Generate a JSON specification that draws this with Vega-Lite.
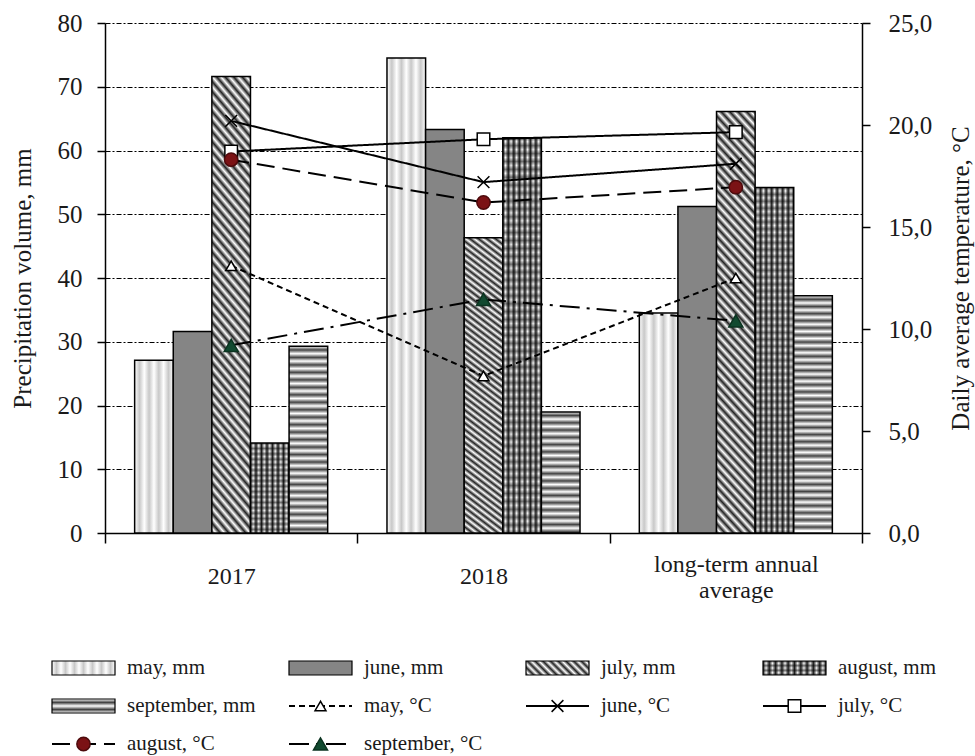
{
  "$schema": "https://vega.github.io/schema/vega-lite/v6.json",
  "width": 757,
  "height": 510,
  "autosize": {"type": "none"},
  "padding": {"left": 105, "top": 23, "right": 113, "bottom": 223},
  "background": "#ffffff",
  "config": {
    "view": {"stroke": null},
    "font": "Liberation Serif",
    "axis": {
      "labelFont": "Liberation Serif",
      "titleFont": "Liberation Serif",
      "labelColor": "#1a1a1a",
      "titleColor": "#1a1a1a",
      "titleFontWeight": "normal",
      "domainColor": "#000",
      "tickColor": "#000"
    }
  },
  "datasets": {
    "bars": [
      {"year": "2017", "month": "may", "mm": 27.1},
      {"year": "2017", "month": "june", "mm": 31.6},
      {"year": "2017", "month": "july", "mm": 71.6},
      {"year": "2017", "month": "august", "mm": 14.1},
      {"year": "2017", "month": "september", "mm": 29.3},
      {"year": "2018", "month": "may", "mm": 74.5},
      {"year": "2018", "month": "june", "mm": 63.3},
      {"year": "2018", "month": "july", "mm": 46.3},
      {"year": "2018", "month": "august", "mm": 62.0},
      {"year": "2018", "month": "september", "mm": 19.0},
      {"year": "long-term annual average", "month": "may", "mm": 34.5},
      {"year": "long-term annual average", "month": "june", "mm": 51.2},
      {"year": "long-term annual average", "month": "july", "mm": 66.1},
      {"year": "long-term annual average", "month": "august", "mm": 54.2},
      {"year": "long-term annual average", "month": "september", "mm": 37.2}
    ],
    "temps": [
      {"year": "2017", "series": "may", "t": 13.1},
      {"year": "2018", "series": "may", "t": 7.7},
      {"year": "long-term annual average", "series": "may", "t": 12.5},
      {"year": "2017", "series": "june", "t": 20.2},
      {"year": "2018", "series": "june", "t": 17.2},
      {"year": "long-term annual average", "series": "june", "t": 18.1},
      {"year": "2017", "series": "july", "t": 18.7},
      {"year": "2018", "series": "july", "t": 19.3},
      {"year": "long-term annual average", "series": "july", "t": 19.65},
      {"year": "2017", "series": "august", "t": 18.3},
      {"year": "2018", "series": "august", "t": 16.2},
      {"year": "long-term annual average", "series": "august", "t": 16.95},
      {"year": "2017", "series": "september", "t": 9.2},
      {"year": "2018", "series": "september", "t": 11.45},
      {"year": "long-term annual average", "series": "september", "t": 10.4}
    ],
    "legend": [
      {"series": "may", "label": "may, mm", "kind": "bar", "col": 0, "row": 0},
      {"series": "june", "label": "june, mm", "kind": "bar", "col": 1, "row": 0},
      {"series": "july", "label": "july, mm", "kind": "bar", "col": 2, "row": 0},
      {"series": "august", "label": "august, mm", "kind": "bar", "col": 3, "row": 0},
      {"series": "september", "label": "september, mm", "kind": "bar", "col": 0, "row": 1},
      {"series": "may", "label": "may, °C", "kind": "line", "col": 1, "row": 1},
      {"series": "june", "label": "june, °C", "kind": "line", "col": 2, "row": 1},
      {"series": "july", "label": "july, °C", "kind": "line", "col": 3, "row": 1},
      {"series": "august", "label": "august, °C", "kind": "line", "col": 0, "row": 2},
      {"series": "september", "label": "september, °C", "kind": "line", "col": 1, "row": 2}
    ]
  },
  "layer": [
    {
      "layer": [
        {
          "data": {"name": "bars"},
          "layer": [
            {
              "mark": {"type": "bar", "stroke": "#000", "strokeWidth": 1.5},
              "encoding": {
                "x": {
                  "field": "year", "type": "nominal", "title": null,
                  "scale": {"domain": ["2017", "2018", "long-term annual average"], "paddingInner": 0, "paddingOuter": 0},
                  "axis": {
                    "labelAngle": 0, "labelFontSize": 24, "labelBaseline": "middle",
                    "labelPadding": {"condition": {"test": "datum.value === 'long-term annual average'", "value": 21}, "value": 33},
                    "labelLineHeight": 26, "labelLimit": 0,
                    "labelExpr": "datum.label == 'long-term annual average' ? ['long-term annual', 'average'] : datum.label",
                    "tickBand": "extent", "tickSize": 10, "tickWidth": 1.5, "domainWidth": 1.5
                  }
                },
                "xOffset": {
                  "field": "month", "type": "nominal",
                  "scale": {"domain": ["may", "june", "july", "august", "september"], "paddingInner": 0, "paddingOuter": 0.768}
                },
                "y": {
                  "field": "mm", "type": "quantitative", "title": "Precipitation volume, mm",
                  "scale": {"domain": [0, 80], "nice": false},
                  "axis": {
                    "values": [0, 10, 20, 30, 40, 50, 60, 70, 80],
                    "grid": true, "gridColor": "#000", "gridDash": [5, 2, 2, 2], "gridWidth": 1,
                    "tickSize": 8, "tickWidth": 1.5, "domainWidth": 1.5,
                    "labelFontSize": 25, "labelPadding": 15, "titleFontSize": 25, "titlePadding": 22
                  }
                },
                "fill": {
                  "condition": [
                    {"test": "datum.month === 'may'", "value": {"gradient": "linear", "x1": 0, "y1": 0, "x2": 1, "y2": 0, "stops": [
                      {"offset": 0, "color": "#fff"}, {"offset": 0.125, "color": "#c8c8c8"}, {"offset": 0.25, "color": "#fff"}, {"offset": 0.375, "color": "#c8c8c8"},
                      {"offset": 0.5, "color": "#fff"}, {"offset": 0.625, "color": "#c8c8c8"}, {"offset": 0.75, "color": "#fff"}, {"offset": 0.875, "color": "#c8c8c8"},
                      {"offset": 1, "color": "#fff"}]}},
                    {"test": "datum.month === 'july'", "value": {"gradient": "linear", "x1": 0, "y1": 1, "x2": 0.109, "y2": -0.089, "stops": [
                      {"offset":0,"color":"#222"},{"offset":0.01,"color":"#fff"},{"offset":0.02,"color":"#222"},{"offset":0.03,"color":"#fff"},{"offset":0.04,"color":"#222"},{"offset":0.05,"color":"#fff"},{"offset":0.06,"color":"#222"},{"offset":0.07,"color":"#fff"},{"offset":0.08,"color":"#222"},{"offset":0.09,"color":"#fff"},
                      {"offset":0.1,"color":"#222"},{"offset":0.11,"color":"#fff"},{"offset":0.12,"color":"#222"},{"offset":0.13,"color":"#fff"},{"offset":0.14,"color":"#222"},{"offset":0.15,"color":"#fff"},{"offset":0.16,"color":"#222"},{"offset":0.17,"color":"#fff"},{"offset":0.18,"color":"#222"},{"offset":0.19,"color":"#fff"},
                      {"offset":0.2,"color":"#222"},{"offset":0.21,"color":"#fff"},{"offset":0.22,"color":"#222"},{"offset":0.23,"color":"#fff"},{"offset":0.24,"color":"#222"},{"offset":0.25,"color":"#fff"},{"offset":0.26,"color":"#222"},{"offset":0.27,"color":"#fff"},{"offset":0.28,"color":"#222"},{"offset":0.29,"color":"#fff"},
                      {"offset":0.3,"color":"#222"},{"offset":0.31,"color":"#fff"},{"offset":0.32,"color":"#222"},{"offset":0.33,"color":"#fff"},{"offset":0.34,"color":"#222"},{"offset":0.35,"color":"#fff"},{"offset":0.36,"color":"#222"},{"offset":0.37,"color":"#fff"},{"offset":0.38,"color":"#222"},{"offset":0.39,"color":"#fff"},
                      {"offset":0.4,"color":"#222"},{"offset":0.41,"color":"#fff"},{"offset":0.42,"color":"#222"},{"offset":0.43,"color":"#fff"},{"offset":0.44,"color":"#222"},{"offset":0.45,"color":"#fff"},{"offset":0.46,"color":"#222"},{"offset":0.47,"color":"#fff"},{"offset":0.48,"color":"#222"},{"offset":0.49,"color":"#fff"},
                      {"offset":0.5,"color":"#222"},{"offset":0.51,"color":"#fff"},{"offset":0.52,"color":"#222"},{"offset":0.53,"color":"#fff"},{"offset":0.54,"color":"#222"},{"offset":0.55,"color":"#fff"},{"offset":0.56,"color":"#222"},{"offset":0.57,"color":"#fff"},{"offset":0.58,"color":"#222"},{"offset":0.59,"color":"#fff"},
                      {"offset":0.6,"color":"#222"},{"offset":0.61,"color":"#fff"},{"offset":0.62,"color":"#222"},{"offset":0.63,"color":"#fff"},{"offset":0.64,"color":"#222"},{"offset":0.65,"color":"#fff"},{"offset":0.66,"color":"#222"},{"offset":0.67,"color":"#fff"},{"offset":0.68,"color":"#222"},{"offset":0.69,"color":"#fff"},
                      {"offset":0.7,"color":"#222"},{"offset":0.71,"color":"#fff"},{"offset":0.72,"color":"#222"},{"offset":0.73,"color":"#fff"},{"offset":0.74,"color":"#222"},{"offset":0.75,"color":"#fff"},{"offset":0.76,"color":"#222"},{"offset":0.77,"color":"#fff"},{"offset":0.78,"color":"#222"},{"offset":0.79,"color":"#fff"},
                      {"offset":0.8,"color":"#222"},{"offset":0.81,"color":"#fff"},{"offset":0.82,"color":"#222"},{"offset":0.83,"color":"#fff"},{"offset":0.84,"color":"#222"},{"offset":0.85,"color":"#fff"},{"offset":0.86,"color":"#222"},{"offset":0.87,"color":"#fff"},{"offset":0.88,"color":"#222"},{"offset":0.89,"color":"#fff"},
                      {"offset":0.9,"color":"#222"},{"offset":0.91,"color":"#fff"},{"offset":0.92,"color":"#222"},{"offset":0.93,"color":"#fff"},{"offset":0.94,"color":"#222"},{"offset":0.95,"color":"#fff"},{"offset":0.96,"color":"#222"},{"offset":0.97,"color":"#fff"},{"offset":0.98,"color":"#222"},{"offset":0.99,"color":"#fff"},
                      {"offset":1,"color":"#222"}]}},
                    {"test": "datum.month === 'august'", "value": {"gradient": "linear", "x1": 0, "y1": 0, "x2": 1, "y2": 0, "stops": [
                      {"offset":0,"color":"#222"},{"offset":0.0714,"color":"#fff"},{"offset":0.1429,"color":"#222"},{"offset":0.2143,"color":"#fff"},{"offset":0.2857,"color":"#222"},
                      {"offset":0.3571,"color":"#fff"},{"offset":0.4286,"color":"#222"},{"offset":0.5,"color":"#fff"},{"offset":0.5714,"color":"#222"},{"offset":0.6429,"color":"#fff"},
                      {"offset":0.7143,"color":"#222"},{"offset":0.7857,"color":"#fff"},{"offset":0.8571,"color":"#222"},{"offset":0.9286,"color":"#fff"},{"offset":1,"color":"#222"}]}},
                    {"test": "datum.month === 'september' && datum.year === '2017'", "value": {"gradient": "linear", "x1": 0, "y1": 0, "x2": 0, "y2": 1, "stops": [
                      {"offset":0,"color":"#fff"},{"offset":0.02,"color":"#444"},{"offset":0.04,"color":"#fff"},{"offset":0.06,"color":"#444"},{"offset":0.08,"color":"#fff"},{"offset":0.1,"color":"#444"},{"offset":0.12,"color":"#fff"},{"offset":0.14,"color":"#444"},{"offset":0.16,"color":"#fff"},{"offset":0.18,"color":"#444"},
                      {"offset":0.2,"color":"#fff"},{"offset":0.22,"color":"#444"},{"offset":0.24,"color":"#fff"},{"offset":0.26,"color":"#444"},{"offset":0.28,"color":"#fff"},{"offset":0.3,"color":"#444"},{"offset":0.32,"color":"#fff"},{"offset":0.34,"color":"#444"},{"offset":0.36,"color":"#fff"},{"offset":0.38,"color":"#444"},
                      {"offset":0.4,"color":"#fff"},{"offset":0.42,"color":"#444"},{"offset":0.44,"color":"#fff"},{"offset":0.46,"color":"#444"},{"offset":0.48,"color":"#fff"},{"offset":0.5,"color":"#444"},{"offset":0.52,"color":"#fff"},{"offset":0.54,"color":"#444"},{"offset":0.56,"color":"#fff"},{"offset":0.58,"color":"#444"},
                      {"offset":0.6,"color":"#fff"},{"offset":0.62,"color":"#444"},{"offset":0.64,"color":"#fff"},{"offset":0.66,"color":"#444"},{"offset":0.68,"color":"#fff"},{"offset":0.7,"color":"#444"},{"offset":0.72,"color":"#fff"},{"offset":0.74,"color":"#444"},{"offset":0.76,"color":"#fff"},{"offset":0.78,"color":"#444"},
                      {"offset":0.8,"color":"#fff"},{"offset":0.82,"color":"#444"},{"offset":0.84,"color":"#fff"},{"offset":0.86,"color":"#444"},{"offset":0.88,"color":"#fff"},{"offset":0.9,"color":"#444"},{"offset":0.92,"color":"#fff"},{"offset":0.94,"color":"#444"},{"offset":0.96,"color":"#fff"},{"offset":0.98,"color":"#444"},
                      {"offset":1,"color":"#fff"}]}},
                    {"test": "datum.month === 'september' && datum.year === '2018'", "value": {"gradient": "linear", "x1": 0, "y1": 0, "x2": 0, "y2": 1, "stops": [
                      {"offset":0,"color":"#fff"},{"offset":0.03,"color":"#444"},{"offset":0.06,"color":"#fff"},{"offset":0.09,"color":"#444"},{"offset":0.12,"color":"#fff"},{"offset":0.15,"color":"#444"},{"offset":0.18,"color":"#fff"},{"offset":0.21,"color":"#444"},{"offset":0.24,"color":"#fff"},{"offset":0.27,"color":"#444"},
                      {"offset":0.3,"color":"#fff"},{"offset":0.33,"color":"#444"},{"offset":0.36,"color":"#fff"},{"offset":0.39,"color":"#444"},{"offset":0.42,"color":"#fff"},{"offset":0.45,"color":"#444"},{"offset":0.48,"color":"#fff"},{"offset":0.51,"color":"#444"},{"offset":0.54,"color":"#fff"},{"offset":0.57,"color":"#444"},
                      {"offset":0.6,"color":"#fff"},{"offset":0.63,"color":"#444"},{"offset":0.66,"color":"#fff"},{"offset":0.69,"color":"#444"},{"offset":0.72,"color":"#fff"},{"offset":0.75,"color":"#444"},{"offset":0.78,"color":"#fff"},{"offset":0.81,"color":"#444"},{"offset":0.84,"color":"#fff"},{"offset":0.87,"color":"#444"},
                      {"offset":0.9,"color":"#fff"},{"offset":0.93,"color":"#444"},{"offset":0.96,"color":"#fff"},{"offset":0.99,"color":"#444"},{"offset":1,"color":"#444"}]}},
                    {"test": "datum.month === 'september'", "value": {"gradient": "linear", "x1": 0, "y1": 0, "x2": 0, "y2": 1, "stops": [
                      {"offset":0,"color":"#fff"},{"offset":0.015,"color":"#444"},{"offset":0.03,"color":"#fff"},{"offset":0.045,"color":"#444"},{"offset":0.06,"color":"#fff"},{"offset":0.075,"color":"#444"},{"offset":0.09,"color":"#fff"},{"offset":0.105,"color":"#444"},{"offset":0.12,"color":"#fff"},{"offset":0.135,"color":"#444"},
                      {"offset":0.15,"color":"#fff"},{"offset":0.165,"color":"#444"},{"offset":0.18,"color":"#fff"},{"offset":0.195,"color":"#444"},{"offset":0.21,"color":"#fff"},{"offset":0.225,"color":"#444"},{"offset":0.24,"color":"#fff"},{"offset":0.255,"color":"#444"},{"offset":0.27,"color":"#fff"},{"offset":0.285,"color":"#444"},
                      {"offset":0.3,"color":"#fff"},{"offset":0.315,"color":"#444"},{"offset":0.33,"color":"#fff"},{"offset":0.345,"color":"#444"},{"offset":0.36,"color":"#fff"},{"offset":0.375,"color":"#444"},{"offset":0.39,"color":"#fff"},{"offset":0.405,"color":"#444"},{"offset":0.42,"color":"#fff"},{"offset":0.435,"color":"#444"},
                      {"offset":0.45,"color":"#fff"},{"offset":0.465,"color":"#444"},{"offset":0.48,"color":"#fff"},{"offset":0.495,"color":"#444"},{"offset":0.51,"color":"#fff"},{"offset":0.525,"color":"#444"},{"offset":0.54,"color":"#fff"},{"offset":0.555,"color":"#444"},{"offset":0.57,"color":"#fff"},{"offset":0.585,"color":"#444"},
                      {"offset":0.6,"color":"#fff"},{"offset":0.615,"color":"#444"},{"offset":0.63,"color":"#fff"},{"offset":0.645,"color":"#444"},{"offset":0.66,"color":"#fff"},{"offset":0.675,"color":"#444"},{"offset":0.69,"color":"#fff"},{"offset":0.705,"color":"#444"},{"offset":0.72,"color":"#fff"},{"offset":0.735,"color":"#444"},
                      {"offset":0.75,"color":"#fff"},{"offset":0.765,"color":"#444"},{"offset":0.78,"color":"#fff"},{"offset":0.795,"color":"#444"},{"offset":0.81,"color":"#fff"},{"offset":0.825,"color":"#444"},{"offset":0.84,"color":"#fff"},{"offset":0.855,"color":"#444"},{"offset":0.87,"color":"#fff"},{"offset":0.885,"color":"#444"},
                      {"offset":0.9,"color":"#fff"},{"offset":0.915,"color":"#444"},{"offset":0.93,"color":"#fff"},{"offset":0.945,"color":"#444"},{"offset":0.96,"color":"#fff"},{"offset":0.975,"color":"#444"},{"offset":0.99,"color":"#fff"},{"offset":1,"color":"#fff"}]}}
                  ],
                  "value": "#858585"
                }
              }
            },
            {
              "transform": [{"filter": "datum.month === 'august'"}],
              "mark": {"type": "bar", "opacity": 0.5},
              "encoding": {
                "x": {"field": "year", "type": "nominal", "title": null},
                "xOffset": {"field": "month", "type": "nominal"},
                "y": {"field": "mm", "type": "quantitative", "title": "Precipitation volume, mm"},
                "fill": {
                  "condition": [
                    {"test": "datum.year === '2017'", "value": {"gradient": "linear", "x1": 0, "y1": 0, "x2": 0, "y2": 1, "stops": [
                      {"offset":0,"color":"#000"},{"offset":0.03,"color":"transparent"},{"offset":0.06,"color":"#000"},{"offset":0.09,"color":"transparent"},{"offset":0.12,"color":"#000"},{"offset":0.15,"color":"transparent"},{"offset":0.18,"color":"#000"},{"offset":0.21,"color":"transparent"},{"offset":0.24,"color":"#000"},{"offset":0.27,"color":"transparent"},
                      {"offset":0.3,"color":"#000"},{"offset":0.33,"color":"transparent"},{"offset":0.36,"color":"#000"},{"offset":0.39,"color":"transparent"},{"offset":0.42,"color":"#000"},{"offset":0.45,"color":"transparent"},{"offset":0.48,"color":"#000"},{"offset":0.51,"color":"transparent"},{"offset":0.54,"color":"#000"},{"offset":0.57,"color":"transparent"},
                      {"offset":0.6,"color":"#000"},{"offset":0.63,"color":"transparent"},{"offset":0.66,"color":"#000"},{"offset":0.69,"color":"transparent"},{"offset":0.72,"color":"#000"},{"offset":0.75,"color":"transparent"},{"offset":0.78,"color":"#000"},{"offset":0.81,"color":"transparent"},{"offset":0.84,"color":"#000"},{"offset":0.87,"color":"transparent"},
                      {"offset":0.9,"color":"#000"},{"offset":0.93,"color":"transparent"},{"offset":0.96,"color":"#000"},{"offset":0.99,"color":"transparent"},{"offset":1,"color":"transparent"}]}}
                  ],
                  "value": {"gradient": "linear", "x1": 0, "y1": 0, "x2": 0, "y2": 1, "stops": [
                    {"offset":0,"color":"#000"},{"offset":0.01,"color":"transparent"},{"offset":0.02,"color":"#000"},{"offset":0.03,"color":"transparent"},{"offset":0.04,"color":"#000"},{"offset":0.05,"color":"transparent"},{"offset":0.06,"color":"#000"},{"offset":0.07,"color":"transparent"},{"offset":0.08,"color":"#000"},{"offset":0.09,"color":"transparent"},
                    {"offset":0.1,"color":"#000"},{"offset":0.11,"color":"transparent"},{"offset":0.12,"color":"#000"},{"offset":0.13,"color":"transparent"},{"offset":0.14,"color":"#000"},{"offset":0.15,"color":"transparent"},{"offset":0.16,"color":"#000"},{"offset":0.17,"color":"transparent"},{"offset":0.18,"color":"#000"},{"offset":0.19,"color":"transparent"},
                    {"offset":0.2,"color":"#000"},{"offset":0.21,"color":"transparent"},{"offset":0.22,"color":"#000"},{"offset":0.23,"color":"transparent"},{"offset":0.24,"color":"#000"},{"offset":0.25,"color":"transparent"},{"offset":0.26,"color":"#000"},{"offset":0.27,"color":"transparent"},{"offset":0.28,"color":"#000"},{"offset":0.29,"color":"transparent"},
                    {"offset":0.3,"color":"#000"},{"offset":0.31,"color":"transparent"},{"offset":0.32,"color":"#000"},{"offset":0.33,"color":"transparent"},{"offset":0.34,"color":"#000"},{"offset":0.35,"color":"transparent"},{"offset":0.36,"color":"#000"},{"offset":0.37,"color":"transparent"},{"offset":0.38,"color":"#000"},{"offset":0.39,"color":"transparent"},
                    {"offset":0.4,"color":"#000"},{"offset":0.41,"color":"transparent"},{"offset":0.42,"color":"#000"},{"offset":0.43,"color":"transparent"},{"offset":0.44,"color":"#000"},{"offset":0.45,"color":"transparent"},{"offset":0.46,"color":"#000"},{"offset":0.47,"color":"transparent"},{"offset":0.48,"color":"#000"},{"offset":0.49,"color":"transparent"},
                    {"offset":0.5,"color":"#000"},{"offset":0.51,"color":"transparent"},{"offset":0.52,"color":"#000"},{"offset":0.53,"color":"transparent"},{"offset":0.54,"color":"#000"},{"offset":0.55,"color":"transparent"},{"offset":0.56,"color":"#000"},{"offset":0.57,"color":"transparent"},{"offset":0.58,"color":"#000"},{"offset":0.59,"color":"transparent"},
                    {"offset":0.6,"color":"#000"},{"offset":0.61,"color":"transparent"},{"offset":0.62,"color":"#000"},{"offset":0.63,"color":"transparent"},{"offset":0.64,"color":"#000"},{"offset":0.65,"color":"transparent"},{"offset":0.66,"color":"#000"},{"offset":0.67,"color":"transparent"},{"offset":0.68,"color":"#000"},{"offset":0.69,"color":"transparent"},
                    {"offset":0.7,"color":"#000"},{"offset":0.71,"color":"transparent"},{"offset":0.72,"color":"#000"},{"offset":0.73,"color":"transparent"},{"offset":0.74,"color":"#000"},{"offset":0.75,"color":"transparent"},{"offset":0.76,"color":"#000"},{"offset":0.77,"color":"transparent"},{"offset":0.78,"color":"#000"},{"offset":0.79,"color":"transparent"},
                    {"offset":0.8,"color":"#000"},{"offset":0.81,"color":"transparent"},{"offset":0.82,"color":"#000"},{"offset":0.83,"color":"transparent"},{"offset":0.84,"color":"#000"},{"offset":0.85,"color":"transparent"},{"offset":0.86,"color":"#000"},{"offset":0.87,"color":"transparent"},{"offset":0.88,"color":"#000"},{"offset":0.89,"color":"transparent"},
                    {"offset":0.9,"color":"#000"},{"offset":0.91,"color":"transparent"},{"offset":0.92,"color":"#000"},{"offset":0.93,"color":"transparent"},{"offset":0.94,"color":"#000"},{"offset":0.95,"color":"transparent"},{"offset":0.96,"color":"#000"},{"offset":0.97,"color":"transparent"},{"offset":0.98,"color":"#000"},{"offset":0.99,"color":"transparent"},
                    {"offset":1,"color":"#000"}]}
                }
              }
            }
          ]
        },
        {
          "data": {"name": "temps"},
          "layer": [
            {
              "mark": {"type": "line", "strokeWidth": 2, "color": "#000"},
              "encoding": {
                "x": {"field": "year", "type": "nominal", "title": null, "bandPosition": 0.5},
                "y": {
                  "field": "t", "type": "quantitative", "title": "Daily average temperature, °C",
                  "scale": {"domain": [0, 25], "nice": false},
                  "axis": {
                    "orient": "right", "values": [0, 5, 10, 15, 20, 25],
                    "labelExpr": "replace(format(datum.value, '.1f'), '.', ',')",
                    "grid": false, "tickSize": 8, "tickWidth": 1.5, "domainWidth": 1.5,
                    "labelFontSize": 25, "labelPadding": 18, "titleFontSize": 25,
                    "titleAngle": -90, "titleBaseline": "top", "titlePadding": 17
                  }
                },
                "strokeDash": {
                  "field": "series", "type": "nominal", "legend": null,
                  "scale": {"domain": ["may", "june", "july", "august", "september"], "range": [[6, 4], [1, 0], [1, 0], [18, 8], [20, 7, 3, 7]]}
                }
              }
            },
            {
              "mark": {"type": "point", "filled": true, "opacity": 1, "strokeWidth": 1.5},
              "encoding": {
                "x": {"field": "year", "type": "nominal", "title": null, "bandPosition": 0.5},
                "y": {"field": "t", "type": "quantitative", "title": "Daily average temperature, °C"},
                "shape": {
                  "field": "series", "type": "nominal", "legend": null,
                  "scale": {"domain": ["may", "june", "july", "august", "september"], "range": ["triangle-up", "M-1,-1L1,1M-1,1L1,-1", "square", "circle", "triangle-up"]}
                },
                "fill": {
                  "field": "series", "type": "nominal", "legend": null,
                  "scale": {"domain": ["may", "june", "july", "august", "september"], "range": ["#ffffff", "transparent", "#ffffff", "#7b1215", "#114a30"]}
                },
                "stroke": {
                  "field": "series", "type": "nominal", "legend": null,
                  "scale": {"domain": ["may", "june", "july", "august", "september"], "range": ["#000000", "#000000", "#000000", "#4d0a0c", "#0b3320"]}
                },
                "size": {
                  "field": "series", "type": "nominal", "legend": null,
                  "scale": {"domain": ["may", "june", "july", "august", "september"], "range": [120, 196, 170, 140, 95]}
                }
              }
            }
          ]
        }
      ],
      "resolve": {"scale": {"y": "independent"}}
    },
    {
      "data": {"name": "legend"},
      "layer": [
        {
          "transform": [{"filter": "datum.kind === 'bar'"}],
          "mark": {"type": "rect", "stroke": "#000", "strokeWidth": 1.2, "x2Offset": 63, "yOffset": -7, "y2Offset": 7},
          "encoding": {
            "x": {"field": "col", "type": "quantitative", "axis": null, "scale": {"domain": [0, 3], "range": [-53, 658], "zero": false, "nice": false}},
            "x2": {"field": "col"},
            "y": {"field": "row", "type": "quantitative", "axis": null, "scale": {"domain": [0, 2], "range": [645, 721], "zero": false, "nice": false}},
            "y2": {"field": "row"},
            "fill": {
              "condition": [
                {"test": "datum.series === 'may'", "value": {"gradient": "linear", "x1": 0, "y1": 0, "x2": 1, "y2": 0, "stops": [
                  {"offset":0,"color":"#fff"},{"offset":0.0714,"color":"#c8c8c8"},{"offset":0.1429,"color":"#fff"},{"offset":0.2143,"color":"#c8c8c8"},{"offset":0.2857,"color":"#fff"},
                  {"offset":0.3571,"color":"#c8c8c8"},{"offset":0.4286,"color":"#fff"},{"offset":0.5,"color":"#c8c8c8"},{"offset":0.5714,"color":"#fff"},{"offset":0.6429,"color":"#c8c8c8"},
                  {"offset":0.7143,"color":"#fff"},{"offset":0.7857,"color":"#c8c8c8"},{"offset":0.8571,"color":"#fff"},{"offset":0.9286,"color":"#c8c8c8"},{"offset":1,"color":"#fff"}]}},
                {"test": "datum.series === 'july'", "value": {"gradient": "linear", "x1": 0, "y1": 1, "x2": 1.165, "y2": 0.741, "stops": [
                  {"offset":0,"color":"#222"},{"offset":0.05,"color":"#fff"},{"offset":0.1,"color":"#222"},{"offset":0.15,"color":"#fff"},{"offset":0.2,"color":"#222"},{"offset":0.25,"color":"#fff"},{"offset":0.3,"color":"#222"},
                  {"offset":0.35,"color":"#fff"},{"offset":0.4,"color":"#222"},{"offset":0.45,"color":"#fff"},{"offset":0.5,"color":"#222"},{"offset":0.55,"color":"#fff"},{"offset":0.6,"color":"#222"},{"offset":0.65,"color":"#fff"},
                  {"offset":0.7,"color":"#222"},{"offset":0.75,"color":"#fff"},{"offset":0.8,"color":"#222"},{"offset":0.85,"color":"#fff"},{"offset":0.9,"color":"#222"},{"offset":0.95,"color":"#fff"},{"offset":1,"color":"#222"}]}},
                {"test": "datum.series === 'august'", "value": {"gradient": "linear", "x1": 0, "y1": 0, "x2": 1, "y2": 0, "stops": [
                  {"offset":0,"color":"#222"},{"offset":0.05,"color":"#fff"},{"offset":0.1,"color":"#222"},{"offset":0.15,"color":"#fff"},{"offset":0.2,"color":"#222"},{"offset":0.25,"color":"#fff"},{"offset":0.3,"color":"#222"},
                  {"offset":0.35,"color":"#fff"},{"offset":0.4,"color":"#222"},{"offset":0.45,"color":"#fff"},{"offset":0.5,"color":"#222"},{"offset":0.55,"color":"#fff"},{"offset":0.6,"color":"#222"},{"offset":0.65,"color":"#fff"},
                  {"offset":0.7,"color":"#222"},{"offset":0.75,"color":"#fff"},{"offset":0.8,"color":"#222"},{"offset":0.85,"color":"#fff"},{"offset":0.9,"color":"#222"},{"offset":0.95,"color":"#fff"},{"offset":1,"color":"#222"}]}},
                {"test": "datum.series === 'september'", "value": {"gradient": "linear", "x1": 0, "y1": 0, "x2": 0, "y2": 1, "stops": [
                  {"offset":0,"color":"#fff"},{"offset":0.25,"color":"#444"},{"offset":0.5,"color":"#fff"},{"offset":0.75,"color":"#444"},{"offset":1,"color":"#fff"}]}}
              ],
              "value": "#858585"
            }
          }
        },
        {
          "transform": [{"filter": "datum.kind === 'bar' && datum.series === 'august'"}],
          "mark": {"type": "rect", "opacity": 0.5, "x2Offset": 63, "yOffset": -7, "y2Offset": 7},
          "encoding": {
            "x": {"field": "col", "type": "quantitative"},
            "x2": {"field": "col"},
            "y": {"field": "row", "type": "quantitative"},
            "y2": {"field": "row"},
            "fill": {"value": {"gradient": "linear", "x1": 0, "y1": 0, "x2": 0, "y2": 1, "stops": [
              {"offset":0,"color":"#000"},{"offset":0.1667,"color":"transparent"},{"offset":0.3333,"color":"#000"},{"offset":0.5,"color":"transparent"},
              {"offset":0.6667,"color":"#000"},{"offset":0.8333,"color":"transparent"},{"offset":1,"color":"#000"}]}}
          }
        },
        {
          "transform": [{"filter": "datum.kind === 'line'"}],
          "mark": {"type": "rule", "strokeWidth": 2, "color": "#000", "x2Offset": 63},
          "encoding": {
            "x": {"field": "col", "type": "quantitative"},
            "x2": {"field": "col"},
            "y": {"field": "row", "type": "quantitative"},
            "strokeDash": {"field": "series", "type": "nominal", "legend": null}
          }
        },
        {
          "transform": [{"filter": "datum.kind === 'line'"}],
          "mark": {"type": "point", "filled": true, "opacity": 1, "strokeWidth": 1.5, "xOffset": 31.5},
          "encoding": {
            "x": {"field": "col", "type": "quantitative"},
            "y": {"field": "row", "type": "quantitative"},
            "shape": {"field": "series", "type": "nominal", "legend": null},
            "fill": {"field": "series", "type": "nominal", "legend": null},
            "stroke": {"field": "series", "type": "nominal", "legend": null},
            "size": {"field": "series", "type": "nominal", "legend": null}
          }
        },
        {
          "mark": {"type": "text", "align": "left", "baseline": "middle", "dx": 75, "fontSize": 21, "font": "Liberation Serif", "color": "#1a1a1a"},
          "encoding": {
            "x": {"field": "col", "type": "quantitative"},
            "y": {"field": "row", "type": "quantitative"},
            "text": {"field": "label"}
          }
        }
      ]
    }
  ],
  "resolve": {"scale": {"x": "independent", "y": "independent"}}
}
